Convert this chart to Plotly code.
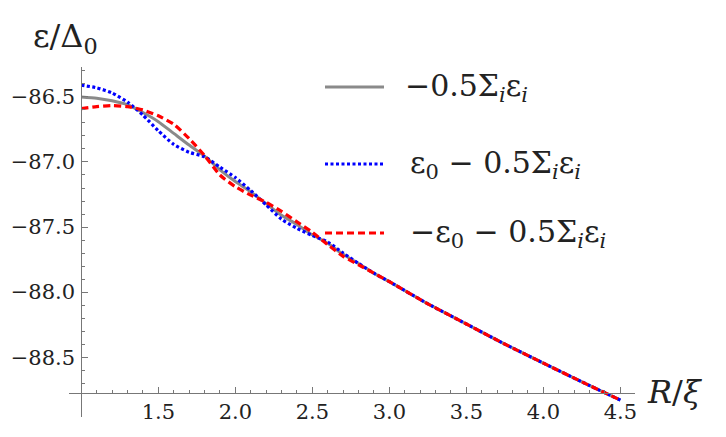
import numpy as np
import plotly.graph_objects as go

# ---- data ----
R = [1.0, 1.1, 1.2, 1.3, 1.4, 1.5, 1.6, 1.7, 1.8, 1.9, 2.0, 2.1, 2.2, 2.3, 2.4,
     2.5, 2.6, 2.7, 2.8, 2.9, 3.0, 3.25, 3.5, 3.75, 4.0, 4.25, 4.5]
gray_vals = [-86.50, -86.51, -86.53, -86.56, -86.62, -86.69, -86.78, -86.87, -86.955,
             -87.06, -87.15, -87.23, -87.32, -87.41, -87.48, -87.56, -87.625, -87.71,
             -87.78, -87.855, -87.92, -88.09, -88.245, -88.40, -88.546, -88.69, -88.83]
blue_vals = [-86.41, -86.43, -86.47, -86.54, -86.64, -86.76, -86.865, -86.925, -86.96,
             -87.04, -87.12, -87.22, -87.33, -87.44, -87.51, -87.565, -87.615, -87.70,
             -87.78, -87.855, -87.92, -88.09, -88.245, -88.40, -88.546, -88.69, -88.83]
red_vals = [-86.59, -86.575, -86.566, -86.575, -86.60, -86.645, -86.71, -86.82, -86.95,
            -87.10, -87.19, -87.255, -87.31, -87.38, -87.46, -87.54, -87.635, -87.725,
            -87.79, -87.855, -87.92, -88.09, -88.245, -88.40, -88.546, -88.69, -88.83]

labels = ["−0.5Σ<sub><i>i</i></sub>ε<sub><i>i</i></sub>",
          "ε<sub>0</sub> − 0.5Σ<sub><i>i</i></sub>ε<sub><i>i</i></sub>",
          "−ε<sub>0</sub> − 0.5Σ<sub><i>i</i></sub>ε<sub><i>i</i></sub>"]
x_ticks = [1.5, 2.0, 2.5, 3.0, 3.5, 4.0, 4.5]
y_ticks = [-86.5, -87.0, -87.5, -88.0, -88.5]

# ---- layout geometry ----
XR = [0.92, 4.595]
YR = [-88.96, -86.27]
x_origin, y_origin = 1.0, -88.777
FONT = "DejaVu Serif"

styles = [dict(color="#8a8a8a", width=3, dash="solid"),
          dict(color="#0000ff", width=3.2, dash="3px,2.5px"),
          dict(color="#ff0000", width=3.2, dash="7px,4px")]
series = [gray_vals, blue_vals, red_vals]

fig = go.Figure()
for vals, st, lab in zip(series, styles, labels):
    fig.add_trace(go.Scatter(x=R, y=vals, mode="lines",
                             line=dict(**st, shape="spline", smoothing=0.6),
                             name=lab, showlegend=False))

xpos = (y_origin - YR[0]) / (YR[1] - YR[0])
ypos = (x_origin - XR[0]) / (XR[1] - XR[0])

x_minor = [round(v, 2) for v in np.arange(1.1, 4.55, 0.1)]
y_minor = [round(v, 2) for v in np.arange(-86.3, -88.75, -0.1)]

fig.update_layout(
    width=726, height=437,
    margin=dict(l=69, r=726 - 635, t=67, b=20, autoexpand=False),
    paper_bgcolor="white", plot_bgcolor="white",
    font=dict(family=FONT, color="#222", size=21),
    xaxis=dict(range=XR, anchor="free", position=xpos, showgrid=False, zeroline=False,
               automargin=False,
               showline=True, linecolor="#777", linewidth=1,
               tickmode="array", tickvals=x_ticks, ticktext=[f"{v:.1f}" for v in x_ticks],
               ticks="inside", ticklen=6, tickcolor="#777", tickwidth=1,
               tickfont=dict(size=21, family=FONT, color="#222"),
               minor=dict(tickmode="array", tickvals=x_minor, ticks="inside", ticklen=3,
                          tickcolor="#777", tickwidth=1)),
    yaxis=dict(range=YR, anchor="free", position=ypos, showgrid=False, zeroline=False,
               automargin=False,
               showline=True, linecolor="#777", linewidth=1,
               tickmode="array", tickvals=y_ticks,
               ticktext=[f"{v:.1f}".replace("-", "−") for v in y_ticks],
               ticks="inside", ticklen=6, tickcolor="#777", tickwidth=1, ticklabelstandoff=2,
               tickfont=dict(size=21, family=FONT, color="#222"),
               minor=dict(tickmode="array", tickvals=y_minor, ticks="inside", ticklen=3,
                          tickcolor="#777", tickwidth=1)),
)

# axis titles
fig.add_annotation(text="ε/Δ<sub>0</sub>", xref="paper", yref="paper",
                   x=(31 - 69) / 566, y=(417 - 38) / 350, xanchor="left", yanchor="middle",
                   showarrow=False, font=dict(size=32, family=FONT, color="#222"))
fig.add_annotation(text="<i>R</i>/<i>ξ</i>", xref="paper", yref="paper",
                   x=(645 - 69) / 566, y=(417 - 392) / 350, xanchor="left", yanchor="middle",
                   showarrow=False, font=dict(size=32, family=FONT, color="#222"))

# legend drawn manually
leg_y = [87, 164, 233]
leg_tx = [403, 408, 408]
for st, lab, py, tx in zip(styles, labels, leg_y, leg_tx):
    yp = (417 - py) / 350
    fig.add_shape(type="line", xref="paper", yref="paper",
                  x0=(325 - 69) / 566, x1=(384 - 69) / 566, y0=yp, y1=yp,
                  line=dict(color=st["color"], width=st["width"], dash=st["dash"]))
    fig.add_annotation(text=lab, xref="paper", yref="paper", x=(tx - 69) / 566, y=yp,
                       xanchor="left", yanchor="middle", showarrow=False,
                       font=dict(size=30, family=FONT, color="#222"))

fig.write_html("out.html")
